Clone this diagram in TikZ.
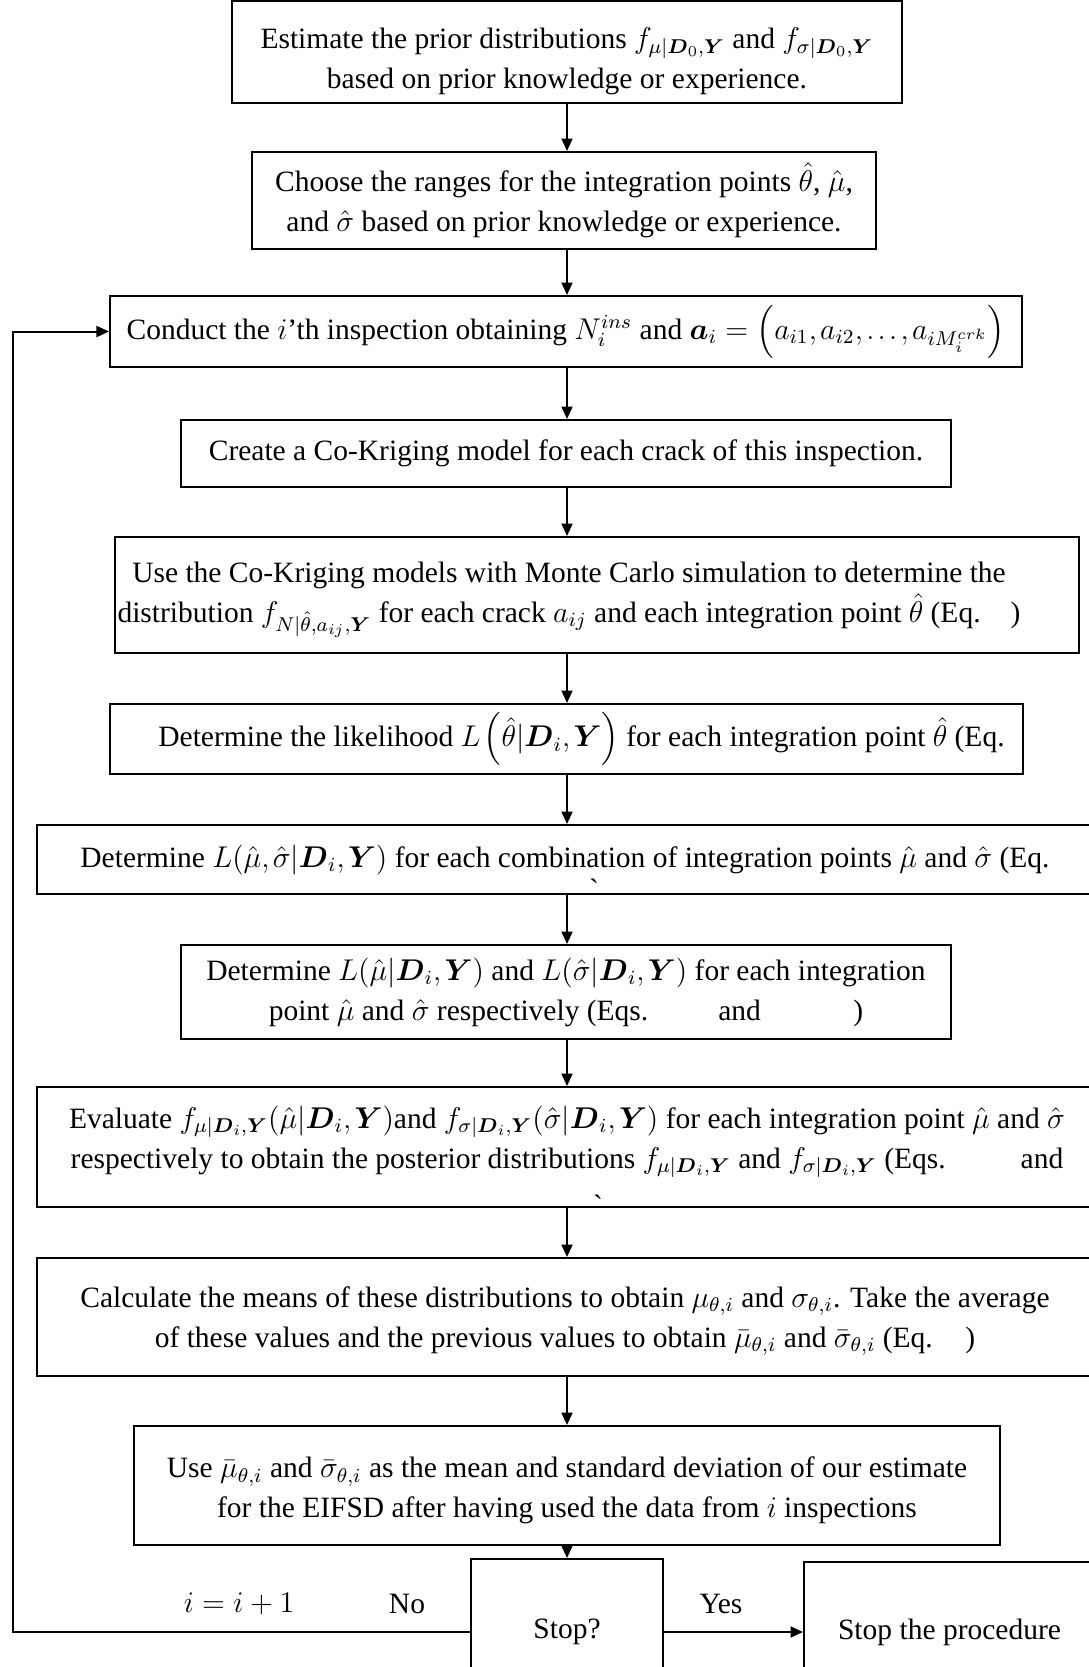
\documentclass[tikz,border=0pt]{standalone}
\usepackage{amsmath,amssymb}
\usepackage{fontspec}
\setmainfont{Liberation Serif}
\usetikzlibrary{arrows.meta}

\newcommand{\bD}{\boldsymbol{D}}
\newcommand{\bY}{\boldsymbol{Y}}
\newcommand{\eqgap}[1]{\hspace*{#1}}

\begin{document}
\begin{tikzpicture}[x=0.4pt, y=-0.4pt,
    font=\fontsize{11.8}{16}\selectfont,
    box/.style={draw, line width=0.8pt, align=center, inner sep=0pt},
    flow/.style={line width=0.8pt, -{Triangle[length=5pt,width=4.4pt]}},
    lbl/.style={inner sep=0pt}]
  \thinmuskip=2mu
  \useasboundingbox (0,0) rectangle (1088,1667);

  % process steps, top to bottom
  \node[box, minimum width=268pt, minimum height=40.8pt] (prior) at (567,52)
    {\rule{0pt}{16pt}Estimate the prior distributions $f_{\mu|\bD_0,\bY}$ and $f_{\sigma|\bD_0,\bY}$\\
     based on prior knowledge or experience.};
  \node[box, minimum width=249.2pt, minimum height=38.8pt] (ranges) at (564,200.5)
    {Choose the ranges for the integration points $\hat{\theta}$, $\hat{\mu}$,\\
     and $\hat{\sigma}$ based on prior knowledge or experience.};
  \node[box, minimum width=364.8pt, minimum height=28.4pt] (inspect) at (566,331.5)
    {\rule{0pt}{11pt}Conduct the $i$’th inspection obtaining $N_i^{ins}$ and
     $\boldsymbol{a}_i = \left(a_{i1}, a_{i2}, \dots, a_{iM_i^{crk}}\right)$};
  \node[box, minimum width=307.6pt, minimum height=26.8pt] (kriging) at (566,453.5)
    {Create a Co-Kriging model for each crack of this inspection.};
  \node[box, minimum width=385.6pt, minimum height=46.4pt] (monte) at (597,595) {};
  \node[lbl, align=center] (montetxt) at (569,599.5)
    {Use the Co-Kriging models with Monte Carlo simulation to determine the\\
     distribution $f_{N|\hat{\theta},a_{ij},\bY}$ for each crack $a_{ij}$ and each
     integration point $\hat{\theta}$ (Eq.\eqgap{12pt})};
  \node[box, minimum width=365.2pt, minimum height=28pt] (liktheta) at (566.5,739)
    {\hspace*{12pt}Determine the likelihood $L\left(\hat{\theta}|\bD_i,\bY\right)$ for each
     integration point $\hat{\theta}$ (Eq.};
  \node[box, minimum width=422.4pt, minimum height=27.6pt] (likjoint) at (565,859.5)
    {Determine $L(\hat{\mu},\hat{\sigma}|\bD_i,\bY)$ for each combination of
     integration points $\hat{\mu}$ and $\hat{\sigma}$ (Eq.};
  \node[box, minimum width=307.6pt, minimum height=37.6pt] (likmarg) at (566,992)
    {Determine $L(\hat{\mu}|\bD_i,\bY)$ and $L(\hat{\sigma}|\bD_i,\bY)$ for each integration\\
     point $\hat{\mu}$ and $\hat{\sigma}$ respectively (Eqs.\eqgap{28pt}and\eqgap{37pt})};
  \node[box, minimum width=424pt, minimum height=48pt] (posterior) at (567,1147)
    {Evaluate $f_{\mu|\bD_i,\bY}(\hat{\mu}|\bD_i,\bY)$and
     $f_{\sigma|\bD_i,\bY}(\hat{\sigma}|\bD_i,\bY)$ for each integration point
     $\hat{\mu}$ and $\hat{\sigma}$\\
     respectively to obtain the posterior distributions $f_{\mu|\bD_i,\bY}$ and
     $f_{\sigma|\bD_i,\bY}$ (Eqs.\eqgap{30pt}and\rule[-8pt]{0pt}{0pt}};
  \node[box, minimum width=422.4pt, minimum height=47.2pt] (means) at (565,1317)
    {\rule{0pt}{11.7pt}Calculate the means of these distributions to obtain $\mu_{\theta,i}$ and
     $\sigma_{\theta,i}$. Take the average\\
     of these values and the previous values to obtain $\bar{\mu}_{\theta,i}$ and
     $\bar{\sigma}_{\theta,i}$ (Eq.\eqgap{13pt})};
  \node[box, minimum width=346pt, minimum height=47.6pt] (estimate) at (567,1485.5)
    {\rule{0pt}{12.5pt}Use $\bar{\mu}_{\theta,i}$ and $\bar{\sigma}_{\theta,i}$ as the mean and standard
     deviation of our estimate\\
     for the EIFSD after having used the data from $i$ inspections};
  \node[box, minimum width=76.8pt, minimum height=58.4pt] (stop) at (567,1632) {Stop?};
  \node[box, minimum width=116.4pt, minimum height=56pt] (done) at (949.5,1632)
    {Stop the procedure};

  % stray marks
  \node[lbl] (tickA) at (594,889) {\textasciigrave};
  \node[lbl] (tickB) at (598,1205) {\textasciigrave};

  % connectors
  \draw[flow] (prior) -- (ranges.north -| prior);
  \draw[flow] (ranges.south -| prior) -- (inspect.north -| prior);
  \draw[flow] (inspect.south -| prior) -- (kriging.north -| prior);
  \draw[flow] (kriging.south -| prior) -- (monte.north -| prior);
  \draw[flow] (monte.south -| prior) -- (liktheta.north -| prior);
  \draw[flow] (liktheta.south -| prior) -- (likjoint.north -| prior);
  \draw[flow] (likjoint.south -| prior) -- (likmarg.north -| prior);
  \draw[flow] (likmarg.south -| prior) -- (posterior.north -| prior);
  \draw[flow] (posterior.south -| prior) -- (means.north -| prior);
  \draw[flow] (means.south -| prior) -- (estimate.north -| prior);
  \draw[flow] (estimate.south -| prior) -- (stop.north -| prior);
  \draw[flow] (stop) -- (done);
  \coordinate (loop) at (13,1632);
  \draw[flow] (stop.west) -- (loop) |- (inspect.west);

  \node[lbl] (yes) at (721,1604) {Yes};
  \node[lbl] (no) at (407,1604) {No};
  \node[lbl] (incr) at (239,1604) {$i = i + 1$};
\end{tikzpicture}
\end{document}
